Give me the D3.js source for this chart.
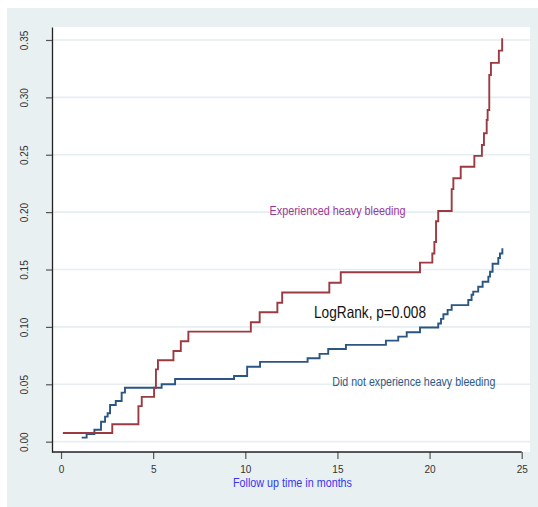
<!DOCTYPE html>
<html>
<head>
<meta charset="utf-8">
<script src="https://cdn.jsdelivr.net/npm/d3@7"></script>
<style>
  body { margin: 0; background: #fff; }
  svg { display: block; font-family: "Liberation Sans", Arial, sans-serif; }
</style>
</head>
<body>
<div id="chart"></div>
<script>
// Cumulative incidence (months, proportion)
var bleedTimes = [0.1, 2.78, 4.2, 4.38, 5.05, 5.15, 5.26, 6.1, 6.5, 6.91, 10.3, 10.78, 11.74, 12.0,
  14.56, 15.18, 19.48, 20.15, 20.26, 20.35, 20.47, 21.2, 21.29, 21.69, 22.43, 22.84, 22.95,
  23.1, 23.15, 23.24, 23.33, 23.76, 23.94];
var bleedValues = [0.0076, 0.0152, 0.031, 0.039, 0.047, 0.063, 0.071, 0.079, 0.0875, 0.0959, 0.104, 0.1127, 0.121, 0.13,
  0.1385, 0.1476, 0.156, 0.164, 0.174, 0.192, 0.201, 0.220, 0.2295, 0.2396, 0.249, 0.2585, 0.2687,
  0.2803, 0.289, 0.3195, 0.330, 0.3407, 0.3515];

var noBleedTimes = [1.12, 1.39, 1.81, 2.17, 2.39, 2.53, 2.66, 2.97, 3.29, 3.47, 5.46, 6.19, 9.39, 10.1, 10.8,
  13.38, 14.03, 14.5, 15.46, 17.63, 18.3, 18.76, 19.48, 20.47, 20.62, 20.75, 20.98, 21.2, 22.1,
  22.28, 22.37, 22.64, 22.88, 23.19, 23.28, 23.42, 23.73, 23.82, 23.95];
var noBleedValues = [0.0035, 0.0067, 0.0104, 0.0174, 0.0218, 0.0247, 0.032, 0.0355, 0.0427, 0.047, 0.050, 0.0546, 0.0572, 0.0653, 0.0695,
  0.0727, 0.0765, 0.0808, 0.0843, 0.088, 0.0915, 0.0953, 0.0995, 0.103, 0.107, 0.111, 0.1148, 0.119, 0.1235,
  0.128, 0.1307, 0.135, 0.1394, 0.1438, 0.148, 0.155, 0.16, 0.164, 0.1685];

var xTicks = [0, 5, 10, 15, 20, 25];
var yTicks = [0, 0.05, 0.10, 0.15, 0.20, 0.25, 0.30, 0.35];

var svgWidth = 538;
var svgHeight = 507;

// plot region (white box)
var plot = { left: 52, right: 530, top: 27, bottom: 452 };

var svg = d3.select("#chart")
  .append("svg")
  .attr("width", svgWidth)
  .attr("height", svgHeight);

// grey graph region
svg.append("rect")
  .attr("x", 7).attr("y", 8)
  .attr("width", svgWidth - 7).attr("height", svgHeight - 8)
  .attr("fill", "#e9f0f2");

svg.append("rect")
  .attr("x", plot.left).attr("y", plot.top)
  .attr("width", plot.right - plot.left).attr("height", plot.bottom - plot.top)
  .attr("fill", "#fff");

var x = d3.scaleLinear().domain([-0.49, 25.45]).range([plot.left, plot.right]);
var y = d3.scaleLinear().domain([-0.009, 0.3613]).range([plot.bottom, plot.top]);

// gridlines
svg.append("g").selectAll("line")
  .data(yTicks)
  .enter()
  .append("line")
  .attr("x1", plot.left)
  .attr("x2", plot.right)
  .attr("y1", d => y(d))
  .attr("y2", d => y(d))
  .attr("stroke", "#e6eef1")
  .attr("stroke-width", 1.6);

// axes
var leftAxis = d3.axisLeft(y).tickValues(yTicks).tickSize(6).tickSizeOuter(0).tickFormat(d3.format(".2f"));
var bottomAxis = d3.axisBottom(x).tickValues(xTicks).tickSize(7).tickSizeOuter(0);

var yAxisG = svg.append("g")
  .attr("transform", `translate(${plot.left}, 0)`)
  .call(leftAxis);
yAxisG.select(".domain").attr("stroke", "#222").attr("stroke-width", 1.3);
yAxisG.selectAll(".tick line").attr("stroke", "#555").attr("stroke-width", 1.2);
yAxisG.selectAll(".tick text")
  .attr("transform", "rotate(-90)")
  .attr("x", 0)
  .attr("y", -27.5)
  .attr("dy", "0.35em")
  .attr("text-anchor", "middle")
  .attr("font-size", 10)
  .attr("font-family", "Liberation Sans, Arial, sans-serif")
  .attr("fill", "#333");

var xAxisG = svg.append("g")
  .attr("transform", `translate(0, ${plot.bottom})`)
  .call(bottomAxis);
xAxisG.select(".domain").remove();
xAxisG.append("line")
  .attr("x1", x(-0.49)).attr("x2", x(25))
  .attr("stroke", "#222").attr("stroke-width", 1.3);
xAxisG.selectAll(".tick line").attr("stroke", "#555").attr("stroke-width", 1.2);
xAxisG.selectAll(".tick text")
  .attr("y", 14)
  .attr("font-size", 10)
  .attr("font-family", "Liberation Sans, Arial, sans-serif")
  .attr("fill", "#333");

// step curves
var line = d3.line()
  .x(d => x(d[0]))
  .y(d => y(d[1]))
  .curve(d3.curveStepAfter);

var bleedData = d3.zip(bleedTimes, bleedValues);
var noBleedData = d3.zip(noBleedTimes, noBleedValues);

svg.append("path")
  .datum(noBleedData)
  .attr("d", line)
  .attr("fill", "none")
  .attr("stroke", "#2b5682")
  .attr("stroke-width", 1.9);

svg.append("path")
  .datum(bleedData)
  .attr("d", line)
  .attr("fill", "none")
  .attr("stroke", "#9c3a42")
  .attr("stroke-width", 1.9);

// labels
svg.append("text")
  .attr("x", 269.5).attr("y", 215)
  .attr("font-size", 12)
  .attr("textLength", 136)
  .attr("lengthAdjust", "spacingAndGlyphs")
  .attr("fill", "#9b3898")
  .text("Experienced heavy bleeding");

svg.append("text")
  .attr("x", 314).attr("y", 317.5)
  .attr("font-size", 16.5)
  .attr("textLength", 112)
  .attr("lengthAdjust", "spacingAndGlyphs")
  .attr("fill", "#111")
  .text("LogRank, p=0.008");

svg.append("text")
  .attr("x", 332.3).attr("y", 385.7)
  .attr("font-size", 12)
  .attr("textLength", 163)
  .attr("lengthAdjust", "spacingAndGlyphs")
  .attr("fill", "#2f5a86")
  .text("Did not experience heavy bleeding");

svg.append("text")
  .attr("x", 233).attr("y", 486.5)
  .attr("font-size", 12.5)
  .attr("textLength", 119)
  .attr("lengthAdjust", "spacingAndGlyphs")
  .attr("fill", "#3535f2")
  .text("Follow up time in months");
</script>
</body>
</html>
